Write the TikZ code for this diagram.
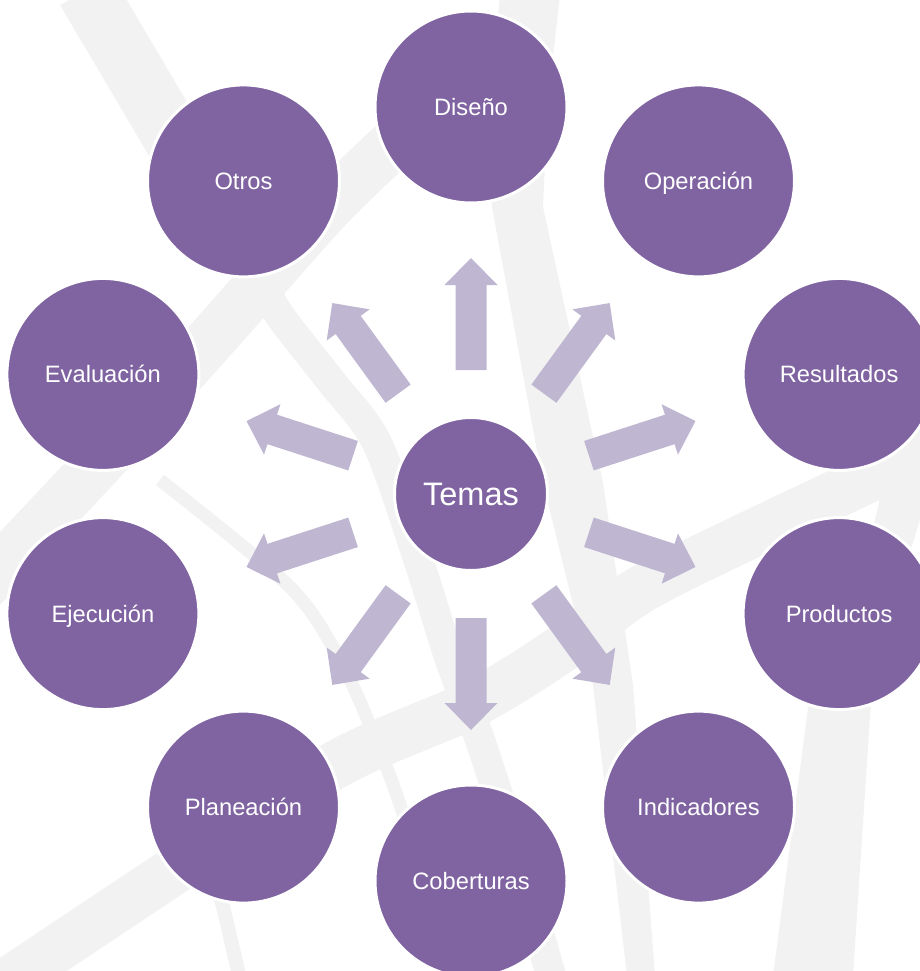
\documentclass[tikz,border=0pt]{standalone}
\usepackage{fontspec}
\setmainfont{Liberation Sans}
\definecolor{circ}{HTML}{8064A2}
\definecolor{arr}{HTML}{BFB7D1}
\definecolor{band}{HTML}{F2F2F2}
\begin{document}
\begin{tikzpicture}[x=1pt,y=-1pt,
  topic/.style={circle, fill=circ, draw=white, line width=3pt, minimum size=192pt, inner sep=0pt, text=white, font=\fontsize{23.7}{28}\selectfont, text height=17pt, text depth=0pt},
  hub/.style={circle, fill=circ, draw=white, line width=3pt, minimum size=153pt, inner sep=0pt, text=white, font=\fontsize{32.5}{38}\selectfont, text height=23.3pt, text depth=0pt},
  bandline/.style={draw=band, line cap=butt, line join=round},
  bandfill/.style={fill=band},
  blockarrow/.style={fill=arr}]
\useasboundingbox (0,0) rectangle (920,971);
\begin{scope}
  \clip (0,0) rectangle (920,971);
  \fill[white] (0,0) rectangle (920,971);
  % background bands
  \draw[bandline, line width=60pt] (86,-10) -- (210,200);
  \draw[bandline, line width=30pt] plot[smooth] coordinates {(255,250) (273,305) (330,380) (377,443) (420,565) (450,660) (480,740) (515,850) (555,990)};
  \draw[bandline, line width=50pt] plot[smooth] coordinates {(-30,600) (100,462) (215,335) (330,205) (430,110)};
  \fill[bandfill] (500,-5) -- (490,100) -- (492,207) -- (543,483) -- (593,685) -- (627,976) -- (655,976) -- (633,685) -- (603,483) -- (543,207) -- (548,100) -- (560,-5) -- cycle;
  \draw[bandline, line width=48pt] plot[smooth] coordinates {(-20,1000) (160,880) (335,765) (470,705) (560,650) (640,590) (760,530) (930,450)};
  \fill[bandfill] (905,390) -- (875,520) -- (813,670) -- (773,976) -- (853,976) -- (873,670) -- (920,520) -- (945,390) -- cycle;
  \draw[bandline, line width=13pt] plot[smooth] coordinates {(160,480) (290,587) (340,660) (372,730) (395,790) (415,850)};
  \draw[bandline, line width=14pt] plot[smooth] coordinates {(205,850) (222,903) (240,980)};
\end{scope}
% arrows from the hub
\foreach \a in {18,54,...,342} {
  \fill[blockarrow, shift={(471,494)}, rotate=\a] (124,-15.5) -- (209,-15.5) -- (209,-26.5) -- (236,0) -- (209,26.5) -- (209,15.5) -- (124,15.5) -- cycle;
}
% nodes
\node[hub] (temas) at (471,494) {Temas};
\node[topic] (diseno) at (471,107) {Diseño};
\node[topic] (operacion) at (698.5,180.9) {Operación};
\node[topic] (resultados) at (839.1,374.4) {Resultados};
\node[topic] (productos) at (839.1,613.6) {Productos};
\node[topic] (indicadores) at (698.5,807.1) {Indicadores};
\node[topic] (coberturas) at (471,881) {Coberturas};
\node[topic] (planeacion) at (243.5,807.1) {Planeación};
\node[topic] (ejecucion) at (102.9,613.6) {Ejecución};
\node[topic] (evaluacion) at (102.9,374.4) {Evaluación};
\node[topic] (otros) at (243.5,180.9) {Otros};
\end{tikzpicture}
\end{document}
